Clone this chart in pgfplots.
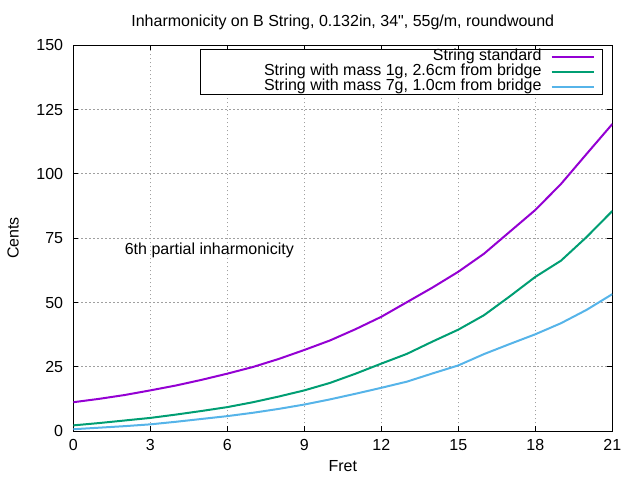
\documentclass[border=0pt]{standalone}
\usepackage{pgfplots}
\pgfplotsset{compat=1.18}
\usepackage{pgfplotstable}
\usepackage{fontspec}
\setmainfont{Liberation Sans}
\newfontfamily\plainfont{Liberation Sans}
\definecolor{cpurple}{HTML}{9400D3}
\definecolor{cgreen}{HTML}{009E73}
\definecolor{cblue}{HTML}{56B4E9}
\definecolor{cgrid}{HTML}{A0A0A0}
\pgfplotstableread{
fret std m1 m7
0 11.3 2.3 0.8
1 12.6 3.2 1.4
2 14.1 4.2 2.0
3 15.9 5.2 2.7
4 17.8 6.5 3.7
5 20.0 7.9 4.8
6 22.4 9.4 5.9
7 25.0 11.3 7.2
8 28.1 13.5 8.7
9 31.6 15.9 10.4
10 35.3 18.8 12.4
11 39.7 22.4 14.6
12 44.5 26.3 16.9
13 50.2 30.1 19.3
14 55.9 34.9 22.5
15 62.0 39.5 25.6
16 69.0 45.1 30.0
17 77.5 52.4 33.9
18 86.0 60.0 37.7
19 96.1 66.3 42.0
20 107.8 75.5 47.2
21 119.4 85.6 53.3
}\datatable
\begin{document}
\fontsize{16bp}{18bp}\selectfont
\begin{tikzpicture}
\path[use as bounding box] (0,0) rectangle (640bp,480bp);
\begin{axis}[
  at={(73.3bp,48.7bp)}, anchor=south west,
  scale only axis, width=539bp, height=386bp,
  xmin=0, xmax=21, ymin=0, ymax=150,
  xtick={0,3,...,21}, ytick={0,25,...,150},
  tick align=inside, major tick length=5bp,
  tick style={black, line width=1bp},
  axis line style={black, line width=1bp},
  grid=major,
  major grid style={cgrid, line width=1bp, dash pattern=on 1.5bp off 2.5bp},
  /pgf/number format/assume math mode=true,
  yticklabel style={anchor=east, inner sep=0pt, xshift=-10bp},
  xticklabel style={anchor=north, inner sep=0pt, yshift=-7.5bp},
  legend cell align=right,
  legend plot pos=right,
  legend style={at={(0.9833,0.9903)}, anchor=north east, draw=black, line width=1bp,
    fill=white, inner xsep=0pt, inner ysep=0pt, row sep=0pt, column sep=9bp,
    nodes={inner sep=0pt, text height=11.2bp, text depth=3.8bp}},
  legend image code/.code={\draw[#1] (0bp,0bp) -- (42bp,0bp); \path (50.3bp,0bp);},
]
\addplot[cpurple, line width=2bp] table[x=fret, y=std] {\datatable};
\addlegendentry{\makebox[340.7bp][r]{String standard}}
\addplot[cgreen, line width=2bp] table[x=fret, y=m1] {\datatable};
\addlegendentry{\makebox[340.7bp][r]{String with mass 1g, 2.6cm from bridge}}
\addplot[cblue, line width=2bp] table[x=fret, y=m7] {\datatable};
\addlegendentry{\makebox[340.7bp][r]{String with mass 7g, 1.0cm from bridge}}
\node[anchor=west, inner sep=0pt] at (axis cs:2,70.5) {6th partial inharmonicity};
\end{axis}
\node[anchor=base, inner sep=0pt] at (342.8bp,453.5bp) {\plainfont Inharmonicity on B String, 0.132in, 34", 55g/m, roundwound};
\node[anchor=base, inner sep=0pt] at (342.8bp,8.3bp) {Fret};
\node[rotate=90, anchor=base, inner sep=0pt] at (18.5bp,242bp) {Cents};
\end{tikzpicture}
\end{document}
